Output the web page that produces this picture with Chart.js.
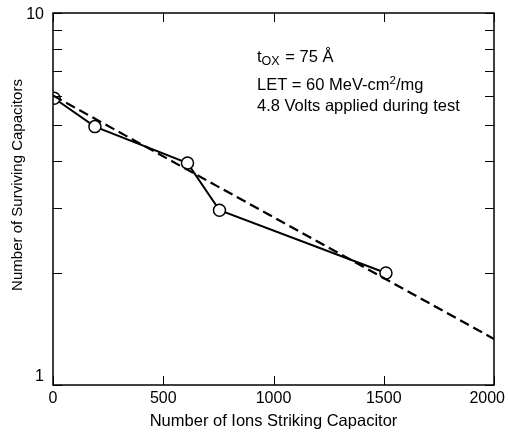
<!DOCTYPE html>
<html>
<head>
<meta charset="utf-8">
<script src="https://cdn.jsdelivr.net/npm/chart.js@4"></script>
<style>
  html, body { margin: 0; padding: 0; background: #fff; }
  #wrap { width: 508px; height: 435px; }
</style>
</head>
<body>
<div id="wrap"><canvas id="grafica" width="508" height="435"></canvas></div>
<script>
// Datos medidos
const ionesX = [5, 190, 610, 755, 1510];
const sobrevivientesY = [5.9, 4.95, 3.95, 2.95, 2.0];
// Recta de ajuste (exponencial)
const ajusteX = [0, 2000];
const ajusteY = [6.0, 1.33];
// Marcas de los ejes
const ticksX = [0, 500, 1000, 1500, 2000];
const ticksY = [1, 2, 3, 4, 5, 6, 7, 8, 9, 10];
const etiquetasY = [1, 10];

const fuente = "'Liberation Sans', Arial, sans-serif";

// Dibuja el marco, las marcas hacia adentro y los textos
const marcoPlugin = {
    id: "marco",
    afterDatasetsDraw(chart) {
        const { ctx, chartArea: a, scales } = chart;
        ctx.save();
        ctx.strokeStyle = "#000";
        ctx.lineWidth = 1.5;
        ctx.strokeRect(a.left, a.top, a.right - a.left, a.bottom - a.top);
        ctx.lineWidth = 1;
        const largo = 9;
        ctx.beginPath();
        ticksX.forEach(v => {
            const px = Math.round(scales.x.getPixelForValue(v)) + 0.5;
            ctx.moveTo(px, a.bottom); ctx.lineTo(px, a.bottom - largo);
            ctx.moveTo(px, a.top); ctx.lineTo(px, a.top + largo);
        });
        ticksY.forEach(v => {
            const py = Math.round(scales.y.getPixelForValue(v)) + 0.5;
            ctx.moveTo(a.left, py); ctx.lineTo(a.left + largo, py);
            ctx.moveTo(a.right, py); ctx.lineTo(a.right - largo, py);
        });
        ctx.stroke();

        ctx.fillStyle = "#000";

        // Etiquetas del eje x (la última no se sale del lienzo)
        ctx.font = "16px " + fuente;
        ctx.textBaseline = "middle";
        ctx.textAlign = "center";
        ticksX.forEach(v => {
            const txt = String(v);
            const w = ctx.measureText(txt).width;
            let px = scales.x.getPixelForValue(v);
            if (px + w / 2 > chart.width - 3) px = chart.width - 3 - w / 2;
            ctx.fillText(txt, px, a.bottom + 14);
        });

        // Etiquetas del eje y (dentro del alto del marco)
        ctx.textAlign = "right";
        etiquetasY.forEach(v => {
            let py = scales.y.getPixelForValue(v);
            py = Math.min(Math.max(py, a.top + 2), a.bottom - 8);
            ctx.fillText(String(v), a.left - 9, py);
        });

        // Título del eje y
        ctx.save();
        ctx.textAlign = "center";
        ctx.translate(18, 185);
        ctx.rotate(-Math.PI / 2);
        ctx.font = "15px " + fuente;
        ctx.fillText("Number of Surviving Capacitors", 0, 0);
        ctx.restore();

        // Texto de anotación
        ctx.textAlign = "left";
        ctx.textBaseline = "alphabetic";
        const tam = 16.5;
        ctx.font = tam + "px " + fuente;
        let x = 257, y = 62;
        ctx.fillText("t", x, y);
        x += ctx.measureText("t").width;
        ctx.font = "12.5px " + fuente;
        ctx.fillText("OX", x, y + 3);
        x += ctx.measureText("OX").width + 1;
        ctx.font = tam + "px " + fuente;
        ctx.fillText(" = 75 Å", x, y);

        y = 90; x = 257;
        ctx.fillText("LET = 60 MeV-cm", x, y);
        x += ctx.measureText("LET = 60 MeV-cm").width;
        ctx.font = "11.5px " + fuente;
        ctx.fillText("2", x, y - 6);
        x += ctx.measureText("2").width;
        ctx.font = tam + "px " + fuente;
        ctx.fillText("/mg", x, y);

        ctx.fillText("4.8 Volts applied during test", 257, 111);
        ctx.restore();
    }
};

const config = {
    type: "scatter",
    data: {
        datasets: [
            {
                label: "ajuste",
                data: ajusteX.map((x, i) => ({ x, y: ajusteY[i] })),
                showLine: true,
                borderColor: "#000",
                borderWidth: 2.2,
                borderDash: [10, 5],
                pointRadius: 0,
                fill: false,
            },
            {
                label: "medidos",
                data: ionesX.map((x, i) => ({ x, y: sobrevivientesY[i] })),
                showLine: true,
                borderColor: "#000",
                borderWidth: 2,
                pointRadius: 6,
                pointBorderWidth: 1.5,
                pointBackgroundColor: "#fff",
                pointBorderColor: "#000",
                fill: false,
            },
        ],
    },
    options: {
        responsive: false,
        animation: false,
        events: [],
        layout: { padding: { left: 0, right: 14, top: 13, bottom: 0 } },
        plugins: { legend: { display: false }, tooltip: { enabled: false } },
        scales: {
            x: {
                type: "linear",
                min: 0,
                max: 2000,
                afterBuildTicks(scale) { scale.ticks = ticksX.map(v => ({ value: v })); },
                afterFit(scale) { scale.height = 50; scale.paddingLeft = 0; scale.paddingRight = 0; },
                grid: { display: false, drawTicks: false },
                border: { display: false },
                ticks: { display: false },
                title: { display: true, text: "Number of Ions Striking Capacitor", color: "#000",
                         font: { family: fuente, size: 16.5 }, padding: { top: 0, bottom: 4 } },
            },
            y: {
                type: "logarithmic",
                min: 1,
                max: 10,
                afterBuildTicks(scale) { scale.ticks = etiquetasY.map(v => ({ value: v })); },
                afterFit(scale) { scale.width = 53; scale.paddingTop = 0; scale.paddingBottom = 0; },
                grid: { display: false, drawTicks: false },
                border: { display: false },
                ticks: { display: false },
                title: { display: false },
            },
        },
    },
    plugins: [marcoPlugin],
};

new Chart(document.getElementById("grafica").getContext("2d"), config);
</script>
</body>
</html>
